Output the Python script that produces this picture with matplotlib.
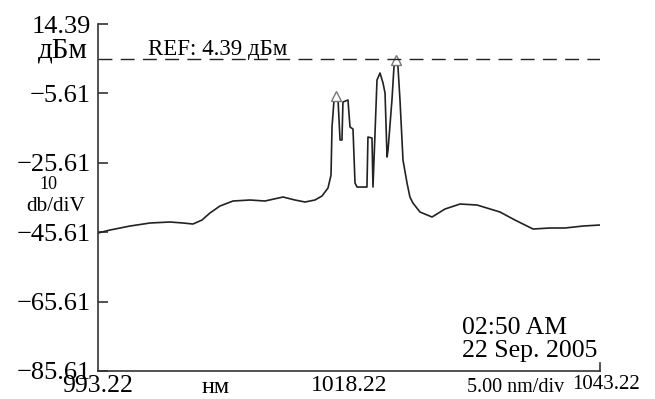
import matplotlib
matplotlib.use("Agg")
import matplotlib.pyplot as plt
import matplotlib.transforms as mtransforms

plt.rcParams["font.family"] = ["Liberation Serif", "DejaVu Serif"]

# ---------------------------------------------------------------------------
# Spectrum trace
# ---------------------------------------------------------------------------
wavelength_nm = [
    993.22, 994.42, 996.41, 998.40, 1000.39, 1001.69, 1002.68, 1003.58,
    1004.37, 1005.37, 1006.67, 1008.36, 1009.85, 1011.65, 1012.84, 1013.84,
    1014.83, 1015.53, 1016.13, 1016.43, 1016.53, 1016.73, 1016.93, 1017.13,
    1017.33, 1017.52, 1017.62, 1018.12, 1018.32, 1018.62, 1018.82, 1019.02,
    1020.01, 1020.11, 1020.51, 1020.61, 1020.81, 1021.01, 1021.31, 1021.61,
    1021.81, 1022.01, 1022.11, 1022.50, 1022.70, 1022.90, 1023.10, 1023.30,
    1023.60, 1024.00, 1024.29, 1024.59, 1025.29, 1026.49, 1027.78, 1029.28,
    1030.97, 1033.26, 1034.75, 1036.55, 1038.24, 1039.73, 1041.53, 1043.22,
]
power_dbm = [
    -45.84, -44.98, -43.83, -42.96, -42.67, -42.96, -43.25, -42.10,
    -40.08, -38.06, -36.62, -36.33, -36.62, -35.47, -36.33, -36.91,
    -36.33, -35.18, -32.87, -29.13, -15.29, -7.51, -6.94, -7.51,
    -19.04, -19.04, -8.09, -7.51, -15.29, -15.87, -31.43, -32.59,
    -32.59, -18.18, -18.46, -32.59, -17.31, -1.75, 0.27, -2.61,
    -5.50, -23.94, -21.92, -7.51, 2.00, 3.73, 2.00, -7.51,
    -24.81, -31.43, -35.47, -37.20, -39.79, -41.23, -38.93, -37.49,
    -37.77, -39.79, -42.10, -44.69, -44.40, -44.40, -43.83, -43.54,
]

# peak markers
marker_nm = [1016.93, 1022.90]
marker_dbm = [-6.3, 3.9]

ref_level = 4.39
y_ticks = [14.39, -5.61, -25.61, -45.61, -65.61, -85.61]
y_tick_labels = ["14.39", "\u22125.61", "\u221225.61", "\u221245.61", "\u221265.61", "\u221285.61"]
x_ticks = [993.22, 1018.22, 1043.22]
x_tick_labels = ["993.22", "1018.22", "1043.22"]
x_tick_sizes = [18.5, 17, 15]

fig = plt.figure(figsize=(6.55, 3.99), dpi=100)
ax = fig.add_axes([0.1496, 0.0702, 0.7664, 0.8696])

ax.plot(wavelength_nm, power_dbm, color="#222222", linewidth=1.2)
ax.plot(marker_nm, marker_dbm, linestyle="none", marker="^", markersize=7,
        markerfacecolor="white", markeredgecolor="#777777", markeredgewidth=1.0)

ref_line = ax.axhline(ref_level, color="#222222", linewidth=1.0)
ref_line.set_dashes((10, 6))

ax.set_xlim(993.22, 1043.22)
ax.set_ylim(-85.61, 14.39)

ax.spines["top"].set_visible(False)
ax.spines["right"].set_bounds(-85.61, -83.2)
for s in ax.spines.values():
    s.set_linewidth(1.2)
    s.set_color("#333333")

ax.set_yticks(y_ticks)
ax.set_yticklabels(y_tick_labels)
ax.tick_params(axis="y", direction="in", length=7, width=1.2, pad=5,
               labelsize=19, color="#333333")
ax.set_xticks(x_ticks)
ax.set_xticklabels(x_tick_labels)
ax.tick_params(axis="x", length=0, pad=3)
for lbl, fs in zip(ax.get_xticklabels(), x_tick_sizes):
    lbl.set_fontsize(fs)
# last label sits a little right of its tick in the original
last = ax.get_xticklabels()[-1]
last.set_transform(last.get_transform() + mtransforms.ScaledTranslation(6 / 100, 0, fig.dpi_scale_trans))

# extra labels on the left side (y in data coords)
left = mtransforms.blended_transform_factory(ax.transAxes, ax.transData)
ax.text(-0.02, 6.9, "дБм", transform=left, ha="right", va="center", fontsize=21)
ax.text(-0.098, -32.0, "10", transform=left, ha="center", va="center", fontsize=13)
ax.text(-0.084, -38.1, "db/diV", transform=left, ha="center", va="center", fontsize=15.3)

# annotations
ax.text(998.2, 5.4, "REF: 4.39 дБм", ha="left", va="baseline", fontsize=16.5)
ax.text(0.725, 0.108, "02:50 AM", transform=ax.transAxes, ha="left", va="baseline", fontsize=18.5)
ax.text(0.725, 0.040, "22 Sep. 2005", transform=ax.transAxes, ha="left", va="baseline", fontsize=18.5)

ax.text(0.235, -0.049, "нм", transform=ax.transAxes, ha="center", va="center", fontsize=17.5)
ax.text(0.831, -0.049, "5.00 nm/div", transform=ax.transAxes, ha="center", va="center", fontsize=14.5)

fig.savefig("out.png", dpi=100)
